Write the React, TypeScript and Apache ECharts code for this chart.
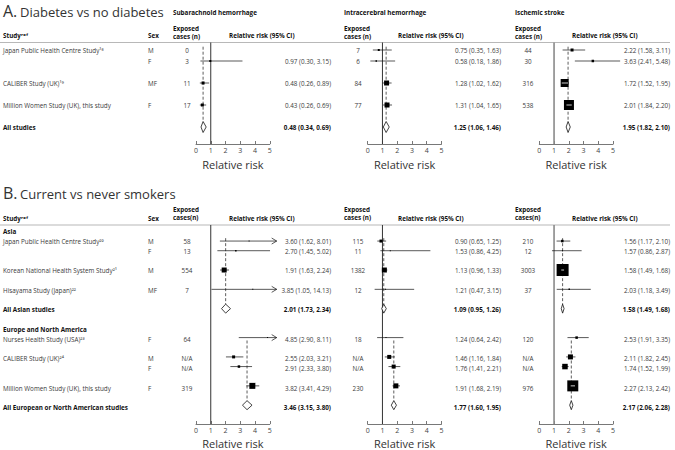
import React, { useEffect, useRef } from "react";
import * as echarts from "echarts";

// ---------------- data ----------------
const outcomes = ["Subarachnoid hemorrhage", "Intracerebral hemorrhage", "Ischemic stroke"];
const tickLabels = ["0", "1", "2", "3", "4", "5"];

// A. Diabetes vs no diabetes
const aTitle = ["A.", "Diabetes vs no diabetes"];
const aStudies = ["Japan Public Health Centre Study¹⁸", "", "CALIBER Study (UK)¹⁹", "Million Women Study (UK), this study"];
const aSex = ["M", "F", "MF", "F"];
const aRows = [0, 1, 3, 5];
const aPooledLabels = ["All studies"];
const aPooledRows = [7];
const aCases = [
  ["0", "3", "11", "17"],
  ["7", "6", "84", "77"],
  ["44", "30", "316", "538"],
];
const aEst = [
  [null, 0.97, 0.48, 0.43],
  [0.75, 0.58, 1.28, 1.31],
  [2.22, 3.63, 1.72, 2.01],
];
const aLo = [
  [null, 0.30, 0.26, 0.26],
  [0.35, 0.18, 1.02, 1.04],
  [1.58, 2.41, 1.52, 1.84],
];
const aHi = [
  [null, 3.15, 0.89, 0.69],
  [1.63, 1.86, 1.62, 1.65],
  [3.11, 5.48, 1.95, 2.20],
];
const aWeight = [
  [0, 2, 3, 3],
  [2, 1.5, 5, 5],
  [3, 2.5, 8, 10],
];
const aPooled = [
  [[0.48, 0.34, 0.69]],
  [[1.25, 1.06, 1.46]],
  [[1.95, 1.82, 2.10]],
];

// B. Current vs never smokers
const bTitle = ["B.", "Current vs never smokers"];
const bGroupLabels = ["Asia", "Europe and North America"];
const bGroupRows = [0, 10];
const bStudies = [
  "Japan Public Health Centre Study²⁰", "", "Korean National Health System Study²¹", "Hisayama Study (Japan)²²",
  "Nurses Health Study (USA)²³", "CALIBER Study (UK)²⁴", "", "Million Women Study (UK), this study",
];
const bSex = ["M", "F", "M", "MF", "F", "M", "F", "F"];
const bRows = [1, 2, 4, 6, 11, 13, 14, 16];
const bPooledLabels = ["All Asian studies", "All European or North American studies"];
const bPooledRows = [8, 18];
const bCases = [
  ["58", "13", "554", "7", "64", "N/A", "N/A", "319"],
  ["115", "11", "1382", "12", "18", "N/A", "N/A", "230"],
  ["210", "12", "3003", "37", "120", "N/A", "N/A", "976"],
];
const bEst = [
  [3.60, 2.70, 1.91, 3.85, 4.85, 2.55, 2.91, 3.82],
  [0.90, 1.53, 1.13, 1.21, 1.24, 1.46, 1.76, 1.91],
  [1.56, 1.57, 1.58, 2.03, 2.53, 2.11, 1.74, 2.27],
];
const bLo = [
  [1.62, 1.45, 1.63, 1.05, 2.90, 2.03, 2.33, 3.41],
  [0.65, 0.86, 0.96, 0.47, 0.64, 1.16, 1.41, 1.68],
  [1.17, 0.86, 1.49, 1.18, 1.91, 1.82, 1.52, 2.13],
];
const bHi = [
  [8.01, 5.02, 2.24, 14.13, 8.11, 3.21, 3.80, 4.29],
  [1.25, 4.25, 1.33, 3.15, 2.42, 1.84, 2.21, 2.19],
  [2.10, 2.87, 1.68, 3.49, 3.35, 2.45, 1.99, 2.42],
];
const bWeight = [
  [1, 1.5, 5, 1, 1, 3, 2.5, 6],
  [3, 1, 5, 1, 1, 4, 4, 5],
  [2.5, 1, 12, 1.5, 2.5, 5, 5.5, 11],
];
const bPooled = [
  [[2.01, 1.73, 2.34], [3.46, 3.15, 3.80]],
  [[1.09, 0.95, 1.26], [1.77, 1.60, 1.95]],
  [[1.58, 1.49, 1.68], [2.17, 2.06, 2.28]],
];

// ---------------- layout ----------------
const W = 675;
const H = 450;
const FONT = "'Open Sans', 'DejaVu Sans', sans-serif";
const PANEL_X0 = [196, 367.7, 539.3];
const UNIT = 14.75;
const X_MAX = 5;
const ARROW_LIMIT = 5.5;
const ARROW_TIP = 5.47;
const COL = {
  study: 3,
  sex: 148,
  cases: [187, 358, 528],
  ciRight: [331, 501, 670],
  expHdr: [173, 344, 515],
  rrHdr: [229, 398, 572],
};
const TXT = 6.3;

const SEC = [
  { top: 42.5, bottom: 144, row0: 50, rowH: 11, diamondH: 5.5, titleY: 11, hdrY: 35.5, expY: 32, outcomeY: 12, nameGap: 15, dashStart: [-0.3], expLabel: ["Exposed\ncases (n)", "Exposed\ncases (n)", "Exposed\ncases (n)"] },
  { top: 225, bottom: 427, row0: 231.5, rowH: 9.8, diamondH: 4.5, titleY: 193, hdrY: 218, expY: 213.5, outcomeY: -100, nameGap: 14, dashStart: [0.7, 11.3], expLabel: ["Exposed\ncases(n)", "Exposed\ncases (n)", "Exposed\ncases(n)"] },
];

const sections = [
  { title: aTitle, studies: aStudies, sex: aSex, rows: aRows, cases: aCases, est: aEst, lo: aLo, hi: aHi, weight: aWeight,
    groupLabels: [] as string[], groupRows: [] as number[], pooledLabels: aPooledLabels, pooledRows: aPooledRows, pooled: aPooled },
  { title: bTitle, studies: bStudies, sex: bSex, rows: bRows, cases: bCases, est: bEst, lo: bLo, hi: bHi, weight: bWeight,
    groupLabels: bGroupLabels, groupRows: bGroupRows, pooledLabels: bPooledLabels, pooledRows: bPooledRows, pooled: bPooled },
];

const f2 = (v: number) => v.toFixed(2);
const ciText = (e: number, l: number, h: number) => `${f2(e)} (${f2(l)}, ${f2(h)})`;

function textStyle(text: string, align: string, bold: boolean, size = TXT, color?: string) {
  return {
    text,
    fill: color || (bold ? "#111" : "#3a3a3a"),
    fontSize: size,
    fontFamily: FONT,
    fontWeight: bold ? "bold" : "normal",
    align,
    textAlign: align,
    verticalAlign: "middle",
    textVerticalAlign: "middle",
    lineHeight: 8,
  };
}

function forestRender(params: any, api: any) {
  const est = api.value(0), lo = api.value(1), hi = api.value(2), r = api.value(3), w = api.value(4);
  const arrow = hi > ARROW_LIMIT;
  const pL = api.coord([lo, r]);
  const pR = api.coord([arrow ? ARROW_TIP : hi, r]);
  const pE = api.coord([est, r]);
  const children: any[] = [
    { type: "line", shape: { x1: pL[0], y1: pL[1], x2: pR[0], y2: pR[1] }, style: { stroke: "#111", lineWidth: 0.7 } },
  ];
  if (arrow) {
    children.push({
      type: "polyline",
      shape: { points: [[pR[0] - 5, pR[1] - 3], [pR[0], pR[1]], [pR[0] - 5, pR[1] + 3]] },
      style: { stroke: "#111", fill: "none", lineWidth: 0.7 },
    });
  }
  children.push({ type: "rect", shape: { x: pE[0] - w / 2, y: pE[1] - w / 2, width: w, height: w }, style: { fill: "#000" } });
  if (pR[0] - pL[0] < w) {
    children.push({ type: "line", shape: { x1: pL[0], y1: pE[1], x2: pR[0], y2: pE[1] }, style: { stroke: "#fff", lineWidth: 0.8 } });
  }
  return { type: "group", children };
}

function buildOption() {
  const grid: any[] = [], xAxis: any[] = [], yAxis: any[] = [], series: any[] = [], graphic: any[] = [];

  sections.forEach((sec, s) => {
    const L = SEC[s];
    const yMin = (L.top - L.row0) / L.rowH;
    const yMax = (L.bottom - L.row0) / L.rowH;
    const dH = L.diamondH;

    // titles and headers
    graphic.push({ type: "text", x: 3, y: L.titleY, style: textStyle(sec.title[0], "left", false, 16, "#333") });
    graphic.push({ type: "text", x: 20, y: L.titleY + 1, style: textStyle(sec.title[1], "left", false, 13, "#333") });
    graphic.push({ type: "text", x: COL.study, y: L.hdrY, style: textStyle("Studyʳᵉᶠ", "left", true) });
    graphic.push({ type: "text", x: COL.sex, y: L.hdrY, style: textStyle("Sex", "left", true) });
    graphic.push({ type: "line", shape: { x1: 0, y1: L.top, x2: 670, y2: L.top }, style: { stroke: "#888", lineWidth: 0.6 } });

    for (let p = 0; p < 3; p++) {
      if (s === 0) graphic.push({ type: "text", x: COL.expHdr[p], y: L.outcomeY, style: textStyle(outcomes[p], "left", true) });
      graphic.push({ type: "text", x: COL.expHdr[p], y: L.expY, style: textStyle(L.expLabel[p], "left", true) });
      graphic.push({ type: "text", x: COL.rrHdr[p], y: L.hdrY, style: textStyle("Relative risk (95% CI)", "left", true) });

      const gi = grid.length;
      grid.push({ left: PANEL_X0[p], top: L.top, width: UNIT * X_MAX, height: L.bottom - L.top });
      xAxis.push({
        gridIndex: gi, type: "value", min: 0, max: X_MAX, interval: 1,
        axisLine: { show: true, onZero: false, lineStyle: { color: "#555", width: 0.8 } },
        axisTick: { show: true, inside: true, length: 3, lineStyle: { color: "#555", width: 0.8 } },
        axisLabel: { fontSize: 7, color: "#444", margin: 3, fontFamily: FONT, formatter: (v: number) => tickLabels[Math.round(v)] ?? "" },
        splitLine: { show: false },
        name: "Relative risk", nameLocation: "middle", nameGap: L.nameGap,
        nameTextStyle: { fontSize: 11, color: "#333", fontFamily: FONT },
      });
      yAxis.push({ gridIndex: gi, type: "value", min: yMin, max: yMax, inverse: true, show: false });

      // reference line at RR = 1
      series.push({
        type: "line", xAxisIndex: gi, yAxisIndex: gi, data: [[1, yMin], [1, yMax]], symbol: "none", silent: true, z: 1,
        lineStyle: { color: p === 2 ? "#8a8a8a" : "#333", width: p === 2 ? 1.6 : 1 },
      });

      // dashed lines at pooled estimates
      sec.pooled[p].forEach((pl, g) => {
        series.push({
          type: "line", xAxisIndex: gi, yAxisIndex: gi, symbol: "none", silent: true, z: 2,
          data: [[pl[0], L.dashStart[g]], [pl[0], sec.pooledRows[g] - dH / L.rowH]],
          lineStyle: { color: "#333", width: 0.8, type: [3, 2] },
        });
      });

      // study estimates
      const fd: number[][] = [];
      sec.rows.forEach((r, i) => {
        const e = sec.est[p][i];
        if (e == null) return;
        fd.push([e, sec.lo[p][i] as number, sec.hi[p][i] as number, r, sec.weight[p][i]]);
      });
      series.push({ type: "custom", xAxisIndex: gi, yAxisIndex: gi, data: fd, renderItem: forestRender, z: 5, silent: true });

      // pooled diamonds
      const pd = sec.pooled[p].map((pl, g) => [pl[0], pl[1], pl[2], sec.pooledRows[g]]);
      series.push({
        type: "custom", xAxisIndex: gi, yAxisIndex: gi, data: pd, z: 5, silent: true,
        renderItem: (params: any, api: any) => {
          const e = api.coord([api.value(0), api.value(3)]);
          const l = api.coord([api.value(1), api.value(3)]);
          const h = api.coord([api.value(2), api.value(3)]);
          return {
            type: "polygon",
            shape: { points: [[l[0], l[1]], [e[0], e[1] - dH], [h[0], h[1]], [e[0], e[1] + dH]] },
            style: { fill: "#fff", stroke: "#111", lineWidth: 0.8 },
          };
        },
      });
    }

    // text grid
    const ti = grid.length;
    grid.push({ left: 0, top: L.top, width: W, height: L.bottom - L.top });
    xAxis.push({ gridIndex: ti, type: "value", min: 0, max: W, show: false });
    yAxis.push({ gridIndex: ti, type: "value", min: yMin, max: yMax, inverse: true, show: false });

    const items: { x: number; r: number; text: string; align: string; bold: boolean }[] = [];
    sec.groupLabels.forEach((t, g) => items.push({ x: COL.study, r: sec.groupRows[g], text: t, align: "left", bold: true }));
    sec.rows.forEach((r, i) => {
      if (sec.studies[i]) items.push({ x: COL.study, r, text: sec.studies[i], align: "left", bold: false });
      items.push({ x: COL.sex, r, text: sec.sex[i], align: "left", bold: false });
      for (let p = 0; p < 3; p++) {
        items.push({ x: COL.cases[p], r, text: sec.cases[p][i], align: "center", bold: false });
        const e = sec.est[p][i];
        if (e != null) items.push({ x: COL.ciRight[p], r, text: ciText(e, sec.lo[p][i] as number, sec.hi[p][i] as number), align: "right", bold: false });
      }
    });
    sec.pooledLabels.forEach((t, g) => {
      const r = sec.pooledRows[g];
      items.push({ x: COL.study, r, text: t, align: "left", bold: true });
      for (let p = 0; p < 3; p++) {
        const pl = sec.pooled[p][g];
        items.push({ x: COL.ciRight[p], r, text: ciText(pl[0], pl[1], pl[2]), align: "right", bold: true });
      }
    });
    series.push({
      type: "custom", xAxisIndex: ti, yAxisIndex: ti, silent: true, z: 6,
      data: items.map((it) => [it.x, it.r]),
      renderItem: (params: any, api: any) => {
        const it = items[params.dataIndex];
        const pt = api.coord([api.value(0), api.value(1)]);
        return { type: "text", x: pt[0], y: pt[1], style: textStyle(it.text, it.align, it.bold) };
      },
    });
  });

  return { animation: false, backgroundColor: "#fff", grid, xAxis, yAxis, series, graphic };
}

export default function App() {
  const ref = useRef<HTMLDivElement>(null);
  useEffect(() => {
    document.body.style.margin = "0";
    const chart = echarts.init(ref.current!, null, { renderer: "svg", width: W, height: H });
    chart.setOption(buildOption() as any);
    return () => chart.dispose();
  }, []);
  return <div ref={ref} style={{ width: W, height: H }} />;
}
